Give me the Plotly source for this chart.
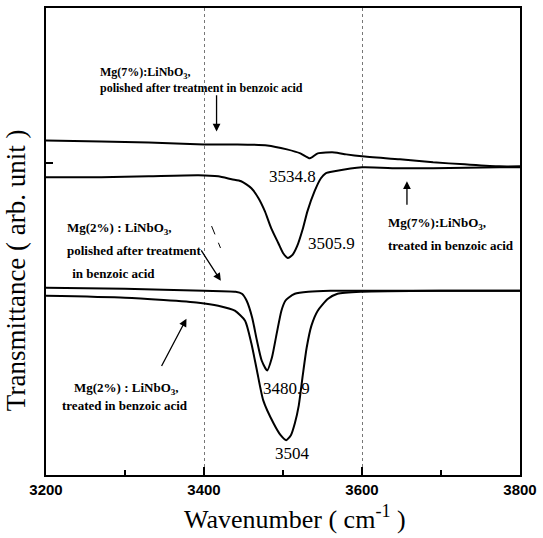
import plotly.graph_objects as go

# Wavenumber (cm^-1) and transmittance (arb. unit)
wn_a = [3200, 3270, 3330, 3400, 3440, 3480, 3505, 3522, 3534, 3544, 3565, 3580, 3600, 3648, 3690, 3730, 3774, 3800]
t_a = [33.6, 33.5, 33.4, 33.2, 33.2, 33.1, 32.7, 32.3, 31.8, 32.3, 32.4, 32.2, 32.0, 31.7, 31.4, 31.2, 31.0, 31.0]

wn_b = [3200, 3270, 3330, 3393, 3418, 3435, 3447, 3460, 3469, 3477, 3485, 3494, 3500, 3506, 3512, 3518, 3525, 3531, 3540, 3548, 3554, 3565, 3600, 3648, 3690, 3774, 3800]
t_b = [29.9, 29.9, 30.0, 30.1, 30.0, 29.7, 29.5, 28.8, 27.8, 26.5, 24.8, 23.3, 22.3, 21.8, 22.1, 23.0, 24.7, 26.5, 28.5, 29.8, 30.3, 30.5, 30.9, 30.8, 30.8, 30.9, 30.9]

wn_c = [3200, 3300, 3400, 3440, 3448, 3454, 3461, 3467, 3473, 3480, 3486, 3492, 3498, 3503, 3507, 3515, 3532, 3560, 3600, 3700, 3800]
t_c = [18.8, 18.7, 18.5, 18.4, 18.2, 17.5, 15.8, 13.5, 11.5, 10.5, 11.8, 14.2, 16.5, 17.5, 17.8, 18.2, 18.4, 18.5, 18.5, 18.5, 18.5]

wn_d = [3200, 3300, 3393, 3418, 3439, 3452, 3460, 3467, 3475, 3488, 3497, 3504, 3510, 3515, 3520, 3525, 3530, 3536, 3544, 3557, 3569, 3600, 3700, 3800]
t_d = [18.0, 17.8, 17.3, 17.0, 16.5, 15.5, 13.2, 10.5, 7.5, 5.2, 4.0, 3.5, 4.0, 5.2, 7.0, 10.0, 12.8, 15.0, 16.5, 17.7, 18.2, 18.4, 18.5, 18.5]

x_ticks = [3200, 3400, 3600, 3800]
x_tick_labels = ["3200", "3400", "3600", "3800"]
peak_labels = ["3534.8", "3505.9", "3480.9", "3504"]

fig = go.Figure()
for wx, ty in [(wn_a, t_a), (wn_b, t_b), (wn_c, t_c), (wn_d, t_d)]:
    fig.add_trace(go.Scatter(x=wx, y=ty, mode="lines",
                             line=dict(color="black", width=2, shape="spline", smoothing=0.6),
                             showlegend=False, hoverinfo="skip"))

serif = "Liberation Serif, Times New Roman, serif"
sans = "Liberation Sans, Arial, sans-serif"

fig.update_layout(
    width=543, height=538,
    margin=dict(l=46, r=19, t=6, b=63),
    paper_bgcolor="white", plot_bgcolor="white",
    xaxis=dict(range=[3200, 3800], tickvals=x_ticks, ticktext=x_tick_labels,
               ticks="inside", ticklen=8, tickwidth=2, tickcolor="black",
               minor=dict(tickvals=[3300, 3500, 3700], ticks="inside", ticklen=5, tickwidth=1.5, tickcolor="black"),
               showline=True, linecolor="black", linewidth=2, mirror=True,
               showgrid=True, gridcolor="#777", griddash="dot", gridwidth=1,
               zeroline=False,
               tickfont=dict(family=sans, size=15, color="black", weight="bold")),
    yaxis=dict(range=[0, 46.9], tickvals=[31.3], ticktext=[""],
               ticks="inside", ticklen=7, tickwidth=2, tickcolor="black",
               showline=True, linecolor="black", linewidth=2, mirror=True,
               showgrid=False, zeroline=False, showticklabels=False),
)

def txt(x, y, s, size=13, bold=True, xanchor="left", family=serif, align="left"):
    fig.add_annotation(x=x, y=y, text=s, showarrow=False, xanchor=xanchor, yanchor="middle",
                       align=align,
                       font=dict(family=family, size=size, color="black", weight="bold" if bold else "normal"))

def arrow(x0, y0, x1, y1):
    fig.add_annotation(x=x1, y=y1, ax=x0, ay=y0, xref="x", yref="y", axref="x", ayref="y",
                       text="", showarrow=True, arrowhead=2, arrowsize=1.2, arrowwidth=1.3, arrowcolor="black")

txt(3265.3, 39.65, "Mg(7%):LiNbO<sub>3</sub>,<br>polished after treatment in benzoic acid", size=12)
arrow(3415.9, 38.3, 3415.9, 34.5)

txt(3512.5, 30.0, peak_labels[0], size=17, bold=False, xanchor="center")
txt(3560.9, 23.2, peak_labels[1], size=17, bold=False, xanchor="center")

arrow(3656.9, 27.0, 3656.9, 29.5)
txt(3630.5, 25.3, "Mg(7%):LiNbO<sub>3</sub>,")
txt(3630.5, 23.0, "treated in benzoic acid")

txt(3223.8, 24.8, "Mg(2%) : LiNbO<sub>3</sub>,")
txt(3223.8, 22.5, "polished after treatment")
txt(3226.4, 20.2, " in benzoic acid")
arrow(3395.3, 22.7, 3421.3, 19.5)
fig.add_shape(type="line", x0=3409.6, y0=25.0, x1=3420.9, y1=22.8,
              line=dict(color="black", width=1, dash="dash"))

txt(3301.7, 8.7, "Mg(2%) : LiNbO<sub>3</sub>,", xanchor="center")
txt(3300.4, 7.0, "treated in benzoic acid", xanchor="center")
arrow(3345.3, 10.8, 3377.8, 15.7)

txt(3505.0, 8.7, peak_labels[2], size=17, bold=False, xanchor="center")
txt(3512.5, 2.15, peak_labels[3], size=17, bold=False, xanchor="center")

# axis titles
fig.add_annotation(xref="paper", yref="paper", x=-0.063, y=0.439, text="Transmittance ( arb. unit )",
                   textangle=-90, showarrow=False, xanchor="center", yanchor="middle",
                   font=dict(family=serif, size=27, color="black"))
fig.add_annotation(xref="paper", yref="paper", x=0.5245, y=-0.092, text="Wavenumber ( cm<sup>-1</sup> )",
                   showarrow=False, xanchor="center", yanchor="middle",
                   font=dict(family=serif, size=26, color="black"))

fig.write_html("out.html")
